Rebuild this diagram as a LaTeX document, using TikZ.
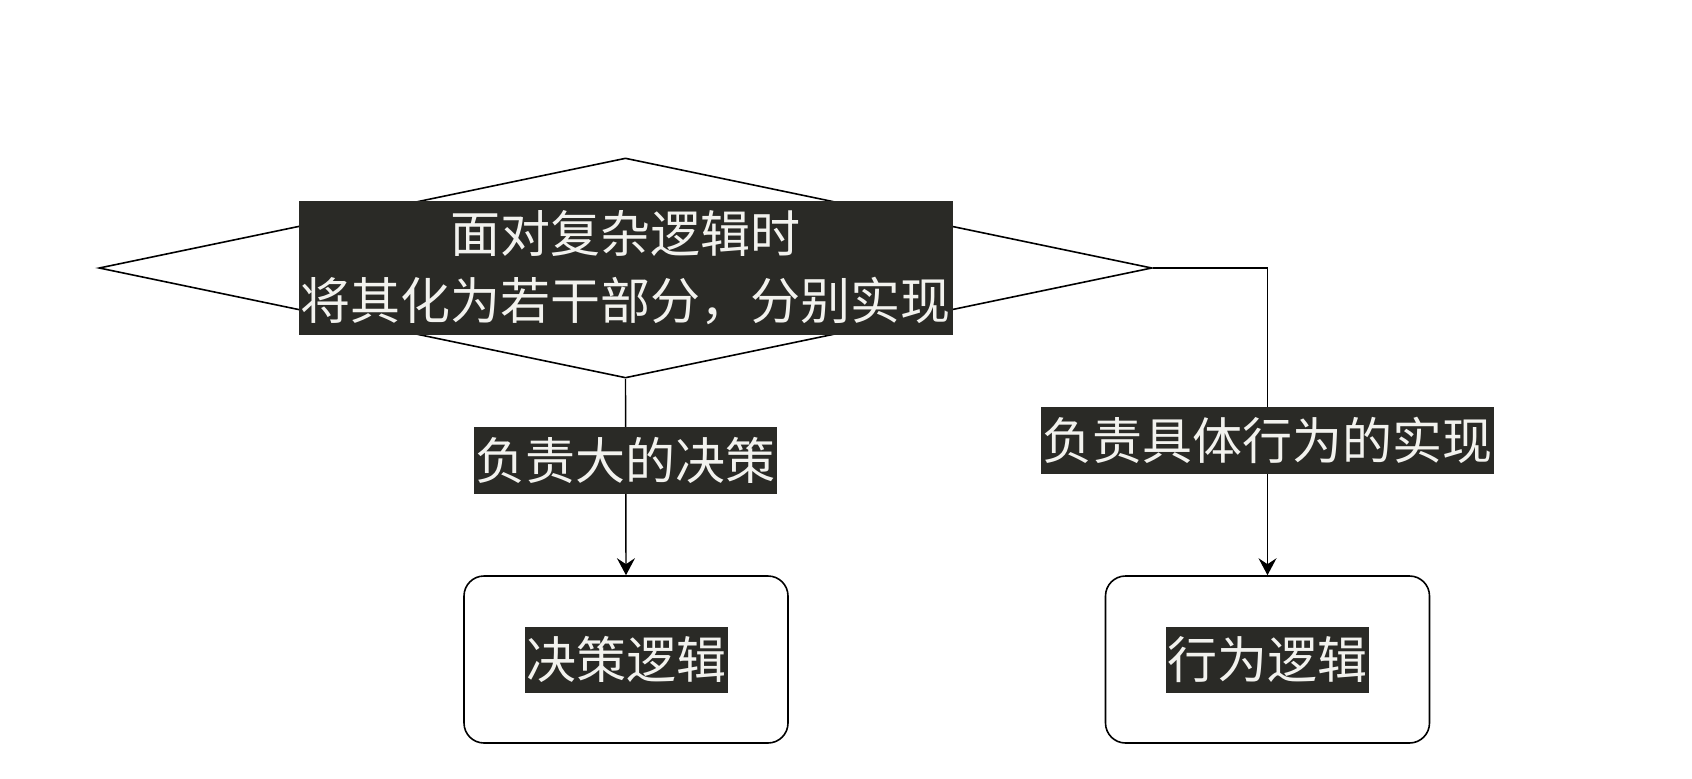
\documentclass[tikz,border=0pt]{standalone}
\usepackage{fontspec}
\setmainfont{Noto Sans CJK SC}
\usetikzlibrary{shapes.geometric,arrows.meta}

\definecolor{labelbg}{HTML}{2A2A26}
\definecolor{labelfg}{HTML}{F2F2EE}

\tikzset{
  px/.style={x=1pt,y=-1pt},
  decision/.style={diamond, draw=black, line width=1.6pt, inner sep=0pt,
    minimum width=1053pt, minimum height=220pt},
  logicbox/.style={rectangle, rounded corners=20pt, draw=black, line width=1.6pt,
    minimum width=324pt, minimum height=167pt},
  darklabel/.style={fill=labelbg, text=labelfg, inner xsep=1.5pt, inner ysep=0pt,
    minimum height=67pt, font=\fontsize{50}{67}\selectfont},
  link/.style={draw=black, line width=1.4pt,
    -{Stealth[length=17pt,width=18pt,inset=6pt]}}
}

\begin{document}
\begin{tikzpicture}[px]
  \useasboundingbox (0,0) rectangle (1692,779);

  % ==================================================
  % Decision diamond with its dark label
  % ==================================================
  \node[decision] (split) at (625.5,268) {};
  \node[darklabel, align=center, minimum width=654pt, minimum height=134pt]
    (splittext) at (split.center) {面对复杂逻辑时\\将其化为若干部分，分别实现};

  % ==================================================
  % The two logic boxes
  % ==================================================
  \node[logicbox] (decide) at (626,659.5) {};
  \node[darklabel, minimum width=202pt, minimum height=66pt]
    (decidetext) at (decide.center) {决策逻辑};

  \node[logicbox] (act) at (1267.5,659.5) {};
  \node[darklabel, minimum width=202pt, minimum height=66pt]
    (acttext) at (act.center) {行为逻辑};

  % ==================================================
  % Connectors with their labels
  % ==================================================
  \draw[link] (split.south) -- (decide.north)
    node[darklabel, pos=0.417] (decidelabel) {负责大的决策};
  \draw[link] (split.east) -| (act.north)
    node[darklabel, pos=0.78] (actlabel) {负责具体行为的实现};

\end{tikzpicture}
\end{document}
